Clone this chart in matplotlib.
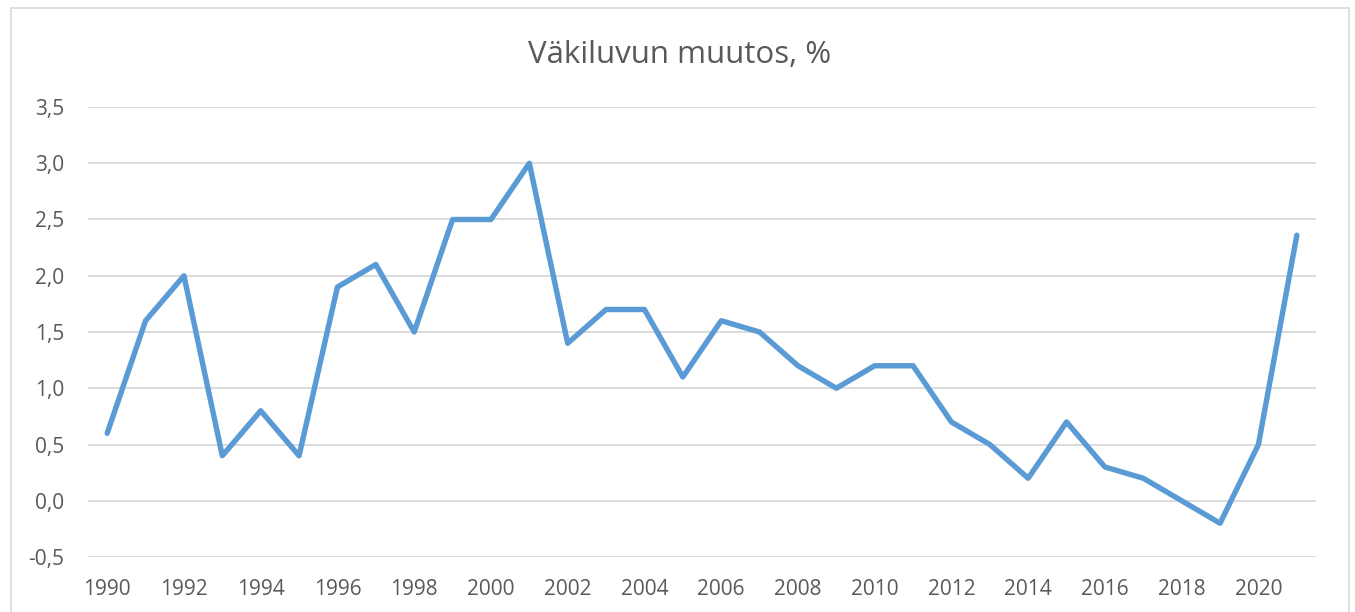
import numpy as np
import matplotlib.pyplot as plt
from matplotlib.patches import Rectangle

# data
years = np.arange(1990, 2022)
change = [0.6, 1.6, 2.0, 0.4, 0.8, 0.4, 1.9, 2.1, 1.5, 2.5, 2.5, 3.0,
          1.4, 1.7, 1.7, 1.1, 1.6, 1.5, 1.2, 1.0, 1.2, 1.2, 0.7, 0.5,
          0.2, 0.7, 0.3, 0.2, 0.0, -0.2, 0.5, 2.36]
yticks = [-0.5, 0.0, 0.5, 1.0, 1.5, 2.0, 2.5, 3.0, 3.5]
xticks = np.arange(1990, 2021, 2)
title = 'Väkiluvun muutos, %'

plt.rcParams['font.family'] = ['Open Sans', 'DejaVu Sans']

W, H = 1355, 612
fig = plt.figure(figsize=(W / 100, H / 100), dpi=100)

# chart border like in Excel
fig.patches.append(Rectangle((11 / W, -0.05), (1349 - 11) / W, 1.05 - 8 / H,
                             transform=fig.transFigure, fill=False,
                             edgecolor='#d9d9d9', linewidth=1.2))

ax = fig.add_axes([88 / W, (H - 557) / H, (1316 - 88) / W, (557 - 107) / H])

ax.plot(years, change, color='#5b9bd5', linewidth=3.9,
        solid_joinstyle='round', solid_capstyle='round', zorder=3)

ax.set_xlim(1989.5, 2021.5)
ax.set_ylim(-0.5, 3.5)
ax.set_yticks(yticks)
ax.set_yticklabels([f'{v:.1f}'.replace('.', ',') for v in yticks])
ax.set_xticks(xticks)
ax.set_xticklabels([str(x) for x in xticks])

ax.grid(axis='y', color='#d9d9d9', linewidth=1.3)
ax.set_axisbelow(True)
for s in ax.spines.values():
    s.set_visible(False)
ax.tick_params(length=0, labelsize=15, colors='#595959')
ax.tick_params(axis='y', pad=17)
ax.tick_params(axis='x', pad=16)

fig.text(680 / W, 1 - 55 / H, title, ha='center', va='center',
         fontsize=22.5, color='#595959')

fig.savefig('out.png', dpi=100)
